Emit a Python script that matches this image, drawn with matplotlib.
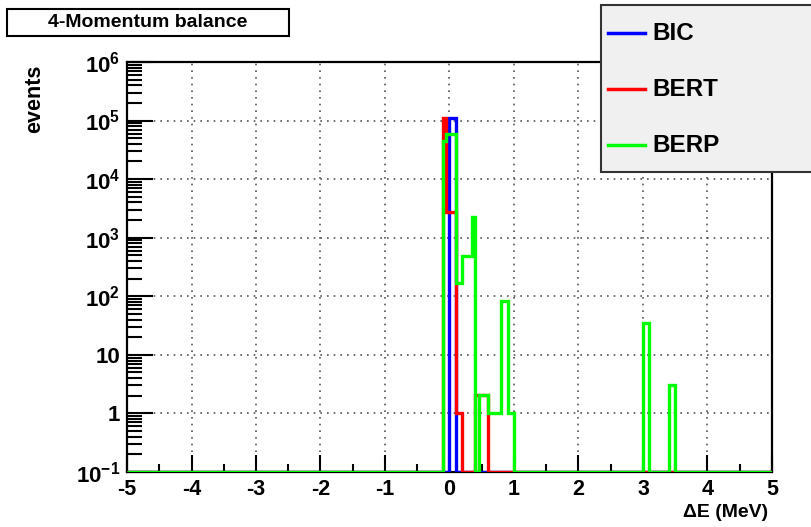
import matplotlib
matplotlib.use('Agg')
import matplotlib.pyplot as plt
import numpy as np
from matplotlib.patches import Rectangle
from matplotlib.lines import Line2D
from matplotlib.ticker import LogLocator, FixedLocator, FuncFormatter, NullFormatter

plt.rcParams['font.family'] = 'Liberation Sans'
plt.rcParams['font.weight'] = 'bold'
plt.rcParams['axes.unicode_minus'] = False
plt.rcParams['mathtext.fontset'] = 'custom'
plt.rcParams['mathtext.rm'] = 'Liberation Sans:bold'
plt.rcParams['mathtext.bf'] = 'Liberation Sans:bold'
plt.rcParams['mathtext.it'] = 'Liberation Sans:bold'

# histogram binning: 200 bins of 0.05 MeV
x_min, x_max, n_bins = -5.0, 5.0, 200
y_floor = 0.1

# non-empty bin ranges (low edge, high edge, entries per bin)
bic_lo = [0.0]
bic_hi = [0.1]
bic_val = [1.1e5]

bert_lo = [-0.1, -0.05, 0.1, 0.4]
bert_hi = [-0.05, 0.1, 0.2, 0.6]
bert_val = [1.1e5, 2700, 1, 2.1]

berp_lo = [-0.1, -0.05, 0.1, 0.2, 0.35, 0.45, 0.6, 0.8, 0.9, 3.0, 3.4]
berp_hi = [-0.05, 0.1, 0.2, 0.35, 0.4, 0.6, 0.8, 0.9, 1.0, 3.1, 3.5]
berp_val = [4.5e4, 6e4, 170, 480, 2300, 2.1, 1, 83, 1, 35, 3.1]

names = ['BIC', 'BERT', 'BERP']
colors = ['#0000ff', '#ff0000', '#00ff00']


def fill_hist(lo, hi, val):
    edges = np.linspace(x_min, x_max, n_bins + 1)
    centers = 0.5 * (edges[:-1] + edges[1:])
    counts = np.zeros(n_bins)
    for a, b, v in zip(lo, hi, val):
        counts[(centers > a) & (centers < b)] = v
    return edges, counts


fig = plt.figure(figsize=(8.11, 5.27), dpi=100)
ax = fig.add_axes([0.1566, 0.1044, 0.7953, 0.7780])

hists = {
    'BIC': fill_hist(bic_lo, bic_hi, bic_val),
    'BERT': fill_hist(bert_lo, bert_hi, bert_val),
    'BERP': fill_hist(berp_lo, berp_hi, berp_val),
}

# empty bins sit on the lower edge of the log axis
for z, (name, col) in enumerate(zip(names, colors)):
    edges, counts = hists[name]
    shown = np.where(counts > 0, counts, y_floor)
    ax.stairs(shown, edges, baseline=None, color=col, lw=2.4, zorder=3 + z)

ax.set_xlim(x_min, x_max)
ax.set_yscale('log')
ax.set_ylim(y_floor, 1e6)

ax.xaxis.set_major_locator(FixedLocator(np.arange(-5, 6, 1)))
ax.xaxis.set_minor_locator(FixedLocator(np.arange(-4.5, 5, 1)))
ax.yaxis.set_major_locator(LogLocator(base=10, numticks=20))
ax.yaxis.set_minor_locator(LogLocator(base=10, subs=np.arange(2, 10), numticks=20))
ax.yaxis.set_minor_formatter(NullFormatter())


def log_label(v, pos):
    e = int(round(np.log10(v)))
    if e == 0:
        return '1'
    if e == 1:
        return '10'
    return r'$10^{%d}$' % e


ax.yaxis.set_major_formatter(FuncFormatter(log_label))

ax.tick_params(axis='x', which='major', direction='in', length=12, width=1.5,
               top=False, labelsize=15.5, pad=5)
ax.tick_params(axis='x', which='minor', direction='in', length=6, width=1.5, top=False)
ax.tick_params(axis='y', which='major', direction='in', length=19, width=1.5,
               right=False, labelsize=16, pad=5)
ax.tick_params(axis='y', which='minor', direction='in', length=11, width=1.5, right=False)

ax.grid(True, which='major', linestyle=(0, (1, 3)), color='#555555', lw=1.2)
for s in ax.spines.values():
    s.set_linewidth(1.6)

fig.text(0.043, 0.877, 'events', rotation=90, ha='center', va='top', fontsize=15.5)
fig.text(0.947, 0.028, 'ΔE (MeV)', ha='right', va='center', fontsize=14)

# title box
fig.add_artist(Rectangle((0.0086, 0.9317), 0.3477, 0.0512, transform=fig.transFigure,
                         facecolor='white', edgecolor='black', lw=1.5, zorder=5))
fig.text(0.1825, 0.957, '4-Momentum balance', ha='center', va='center', fontsize=14, zorder=6)

# legend box
fig.add_artist(Rectangle((0.741, 0.673), 0.30, 0.318, transform=fig.transFigure,
                         facecolor='#f0f0f0', edgecolor='#333333', lw=1.5, zorder=5))
for i, (name, col) in enumerate(zip(names, colors)):
    yy = 1 - (33 + 56 * i) / 527
    fig.add_artist(Line2D([0.750, 0.795], [yy, yy], transform=fig.transFigure,
                          color=col, lw=2.5, zorder=6))
    fig.text(0.805, yy, name, ha='left', va='center', fontsize=17.5, zorder=6)

fig.savefig('out.png', dpi=100)
